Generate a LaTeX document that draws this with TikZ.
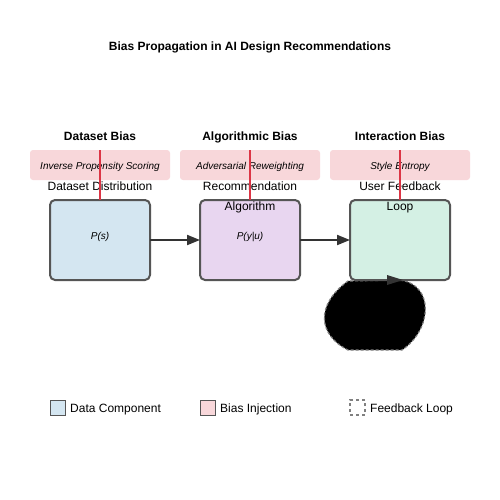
\documentclass[tikz,border=0pt]{standalone}
\usepackage{fontspec}
\setmainfont{Liberation Sans}
\usetikzlibrary{arrows.meta}
\definecolor{boxline}{HTML}{555555}
\definecolor{arrowc}{HTML}{333333}
\definecolor{biasfill}{HTML}{F8D7DA}
\definecolor{biasline}{HTML}{DC3545}
\definecolor{bluefill}{HTML}{D4E6F1}
\definecolor{purplefill}{HTML}{E8D6F0}
\definecolor{greenfill}{HTML}{D4F0E4}
\tikzset{
  comp/.style={draw=boxline, line width=2pt, rounded corners=5pt, minimum width=100pt, minimum height=80pt, inner sep=0pt, outer sep=0pt},
  biasbox/.style={fill=biasfill, rounded corners=3pt, minimum width=140pt, minimum height=30pt, inner sep=0pt, outer sep=0pt, font=\fontsize{10}{12}\selectfont\itshape, text height=8pt, text depth=0pt},
  biasln/.style={draw=biasline, line width=2pt},
  header/.style={font=\fontsize{12}{14}\selectfont\bfseries, anchor=base, inner sep=0pt},
  complabel/.style={font=\fontsize{12}{20}\selectfont, align=center, anchor=north, inner sep=0pt},
  formula/.style={font=\fontsize{10}{12}\selectfont\itshape, anchor=base, inner sep=0pt},
  flow/.style={draw=arrowc, line width=2pt, -{Triangle[length=13pt,width=10pt]}},
  legsq/.style={draw=boxline, line width=0.8pt, minimum size=15pt, inner sep=0pt, outer sep=0pt, anchor=north west},
  legtext/.style={font=\fontsize{12}{14}\selectfont, anchor=base west, inner sep=0pt},
}
\begin{document}
\begin{tikzpicture}[x=1pt,y=-1pt]
\useasboundingbox[fill=white] (0,0) rectangle (500,500);

\node[header] (title) at (250,51) {Bias Propagation in AI Design Recommendations};

\node[header] (h1) at (100,140) {Dataset Bias};
\node[header] (h2) at (250,140) {Algorithmic Bias};
\node[header] (h3) at (400,140) {Interaction Bias};

\node[biasbox] (p1) at (100,165) {Inverse Propensity Scoring};
\node[biasbox] (p2) at (250,165) {Adversarial Reweighting};
\node[biasbox] (p3) at (400,165) {Style Entropy};

% feedback loop blob
\draw[dash pattern=on 3pt off 2pt, draw=gray, fill=black, line width=1.2pt] (400,280) .. controls (435,285) and (432,330) .. (402,350) -- (348,350) .. controls (318,335) and (315,305) .. (348,281) -- cycle;

\node[comp, fill=bluefill] (b1) at (100,240) {};
\node[comp, fill=purplefill] (b2) at (250,240) {};
\node[comp, fill=greenfill] (b3) at (400,240) {};

\node[complabel] (l1) at (100,181.5) {Dataset Distribution};
\node[complabel] (l2) at (250,181.5) {Recommendation\\Algorithm};
\node[complabel] (l3) at (400,181.5) {User Feedback\\Loop};

\draw[biasln] (p1.north) -- (b1.north);
\draw[biasln] (p2.north) -- (b2.north);
\draw[biasln] (p3.north) -- (b3.north);

\node[formula] (f1) at (100,239) {P(s)};
\node[formula] (f2) at (250,239) {P(y|u)};

\draw[flow] (b1.east) -- (b2.west);
\draw[flow] (b2.east) -- (b3.west);

\fill[arrowc] (387,275) -- (403,280) -- (387,285) -- cycle;

% legend
\node[legsq, fill=bluefill] (s1) at (50,400) {};
\node[legtext] (t1) at (70,412) {Data Component};
\node[legsq, fill=biasfill] (s2) at (200,400) {};
\node[legtext] (t2) at (220,412) {Bias Injection};
\node[legsq, draw=gray, line width=1.2pt, dash pattern=on 3pt off 3pt, fill=white] (s3) at (350,400) {};
\node[legtext] (t3) at (370,412) {Feedback Loop};
\end{tikzpicture}
\end{document}
